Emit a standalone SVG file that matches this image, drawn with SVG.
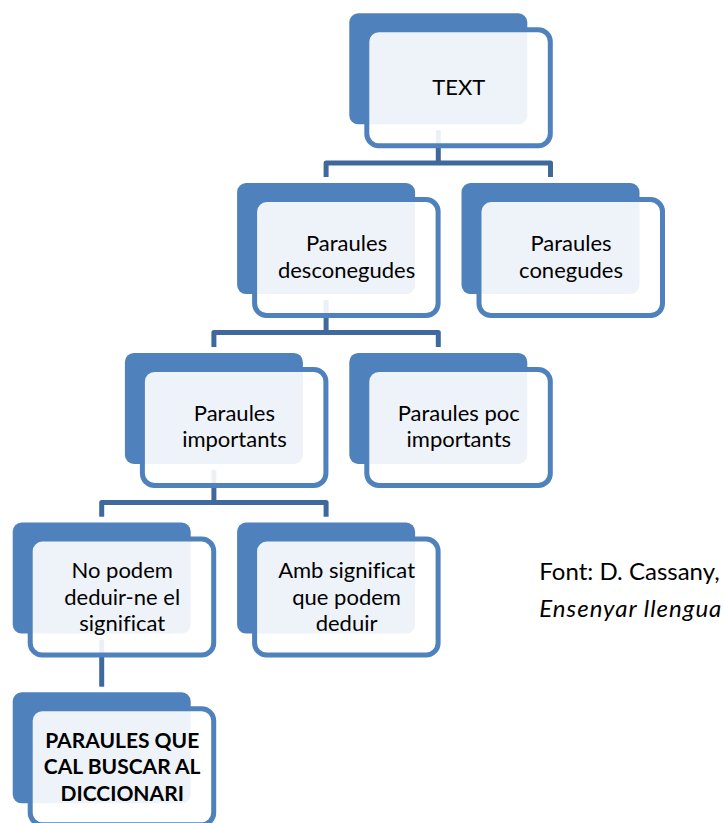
<svg xmlns="http://www.w3.org/2000/svg" width="723" height="823" viewBox="0 0 723 823">
  <style>
    .back { fill: #4F81BD; }
    .front { fill: #FFFFFF; fill-opacity: 0.9; stroke: #4F81BD; stroke-width: 5; }
    .conn { fill: none; stroke: #3F699D; stroke-width: 5; stroke-linejoin: round; }
    .lbl { font-family: Lato, "Open Sans", sans-serif; font-size: 22px; fill: #000000; text-anchor: middle; font-variant-ligatures: none; }
    .bold { font-weight: bold; font-size: 21px; }
    .note { font-family: Lato, "Open Sans", sans-serif; font-size: 24px; fill: #000000; font-variant-ligatures: none; }
  </style>
  <rect x="0" y="0" width="723" height="823" fill="#FFFFFF"/>
  <g id="connectors">
    <path class="conn" d="M438.3,130.3 V163 M326.1,177 V163 H550.5 V177"/>
    <path class="conn" d="M326.1,300 V332.5 M213.9,347 V332.5 H438.3 V347"/>
    <path class="conn" d="M213.9,470 V502.5 M101.7,516.7 V502.5 H326.1 V516.7"/>
    <path class="conn" d="M101.7,639.6 V686.7"/>
  </g>
  <g id="n-text">
    <rect class="back" x="349.3" y="13.3" width="178" height="111" rx="9"/>
    <rect class="front" x="366.8" y="29.8" width="183.5" height="116" rx="12"/>
    <text class="lbl" x="458.8" y="95">TEXT</text>
  </g>
  <g id="n-desconegudes">
    <rect class="back" x="237.1" y="183.1" width="178" height="111" rx="9"/>
    <rect class="front" x="254.6" y="199.6" width="183.5" height="116" rx="12"/>
    <text class="lbl" x="346.6" y="251"><tspan x="346.6">Paraules</tspan><tspan x="346.6" dy="26.6">desconegudes</tspan></text>
  </g>
  <g id="n-conegudes">
    <rect class="back" x="461.5" y="183.1" width="178" height="111" rx="9"/>
    <rect class="front" x="479" y="199.6" width="183.5" height="116" rx="12"/>
    <text class="lbl" x="571" y="251"><tspan x="571">Paraules</tspan><tspan x="571" dy="26.6">conegudes</tspan></text>
  </g>
  <g id="n-importants">
    <rect class="back" x="124.9" y="352.9" width="178" height="111" rx="9"/>
    <rect class="front" x="142.4" y="369.4" width="183.5" height="116" rx="12"/>
    <text class="lbl" x="234.4" y="420.8"><tspan x="234.4">Paraules</tspan><tspan x="234.4" dy="26.6">importants</tspan></text>
  </g>
  <g id="n-poc-importants">
    <rect class="back" x="349.3" y="352.9" width="178" height="111" rx="9"/>
    <rect class="front" x="366.8" y="369.4" width="183.5" height="116" rx="12"/>
    <text class="lbl" x="458.8" y="420.8"><tspan x="458.8">Paraules poc</tspan><tspan x="458.8" dy="26.6">importants</tspan></text>
  </g>
  <g id="n-no-podem">
    <rect class="back" x="12.7" y="522.6" width="178" height="111" rx="9"/>
    <rect class="front" x="30.2" y="539.1" width="183.5" height="116" rx="12"/>
    <text class="lbl" x="122.2" y="578.3"><tspan x="122.2">No podem</tspan><tspan x="122.2" dy="26.4">deduir-ne el</tspan><tspan x="122.2" dy="26.4">significat</tspan></text>
  </g>
  <g id="n-amb-significat">
    <rect class="back" x="237.1" y="522.6" width="178" height="111" rx="9"/>
    <rect class="front" x="254.6" y="539.1" width="183.5" height="116" rx="12"/>
    <text class="lbl" x="346.6" y="578.3"><tspan x="346.6">Amb significat</tspan><tspan x="346.6" dy="26.4">que podem</tspan><tspan x="346.6" dy="26.4">deduir</tspan></text>
  </g>
  <g id="n-diccionari">
    <rect class="back" x="12.7" y="692.3" width="178" height="111" rx="9"/>
    <rect class="front" x="30.2" y="708.8" width="183.5" height="116" rx="12"/>
    <text class="lbl bold" x="122.2" y="747.7"><tspan x="122.2">PARAULES QUE</tspan><tspan x="122.2" dy="26.6">CAL BUSCAR AL</tspan><tspan x="122.2" dy="26.6">DICCIONARI</tspan></text>
  </g>
  <g id="source-note">
    <text class="note" x="539.3" y="580">Font: D. Cassany,</text>
    <text class="note" x="539.3" y="617.3" font-style="italic" letter-spacing="1">Ensenyar llengua</text>
  </g>
</svg>
